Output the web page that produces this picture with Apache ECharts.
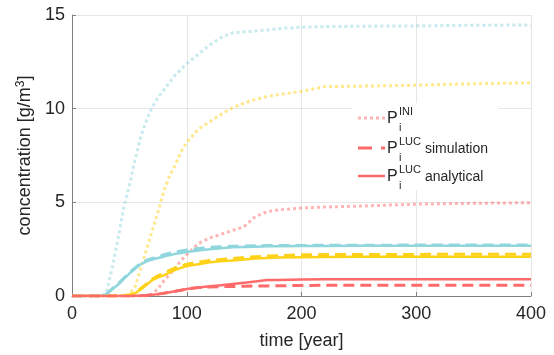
<!DOCTYPE html>
<html>
<head>
<meta charset="utf-8">
<script src="https://cdn.jsdelivr.net/npm/echarts@6/dist/echarts.min.js"></script>
<style>
  html, body { margin: 0; padding: 0; background: #fff; }
  #chart { width: 554px; height: 355px; }
</style>
</head>
<body>
<div id="chart"></div>
<script>
// time grid shared by all curves (years)
const time = [0, 20, 25, 30, 35, 40, 45, 50, 55, 60, 65, 70, 75, 80, 85, 90, 95, 100, 110, 120, 130, 140, 150, 160, 170, 180, 200, 220, 250, 300, 350, 400];

// P_i^INI (dotted)
const cyanIni   = [0, 0, 0, 0.2, 1.5, 3.0, 4.7, 5.9, 7.3, 8.5, 9.4, 10.1, 10.6, 11.0, 11.4, 11.8, 12.1, 12.4, 12.9, 13.4, 13.8, 14.05, 14.1, 14.15, 14.2, 14.27, 14.35, 14.38, 14.4, 14.42, 14.45, 14.47];
const yellowIni = [0, 0, 0, 0, 0, 0, 0, 0.1, 0.5, 1.5, 2.5, 3.5, 4.5, 5.6, 6.4, 7.0, 7.7, 8.2, 8.9, 9.3, 9.7, 10.05, 10.3, 10.5, 10.65, 10.75, 10.92, 11.18, 11.2, 11.25, 11.33, 11.38];
const redIni    = [0, 0, 0, 0, 0, 0, 0, 0, 0, 0, 0, 0.1, 0.4, 0.8, 1.15, 1.5, 1.9, 2.2, 2.8, 3.1, 3.3, 3.5, 3.7, 4.25, 4.5, 4.6, 4.7, 4.75, 4.8, 4.9, 4.95, 4.98];

// P_i^LUC simulation (dashed)
const cyanSim   = [0, 0, 0, 0.1, 0.38, 0.65, 0.95, 1.25, 1.5, 1.75, 1.9, 2.0, 2.1, 2.2, 2.28, 2.35, 2.4, 2.45, 2.53, 2.6, 2.63, 2.65, 2.67, 2.68, 2.69, 2.7, 2.7, 2.71, 2.71, 2.72, 2.72, 2.72];
const yellowSim = [0, 0, 0, 0, 0, 0, 0.02, 0.05, 0.18, 0.4, 0.65, 0.9, 1.08, 1.2, 1.37, 1.5, 1.6, 1.7, 1.8, 1.9, 1.95, 2.0, 2.05, 2.1, 2.13, 2.15, 2.2, 2.21, 2.22, 2.22, 2.23, 2.23];
const redSim    = [0, 0, 0, 0, 0, 0, 0, 0, 0.01, 0.02, 0.04, 0.07, 0.1, 0.15, 0.2, 0.25, 0.31, 0.37, 0.45, 0.48, 0.5, 0.51, 0.52, 0.53, 0.54, 0.55, 0.56, 0.57, 0.57, 0.58, 0.58, 0.58];

// P_i^LUC analytical (solid)
const cyanAna   = [0, 0, 0, 0.1, 0.35, 0.6, 0.9, 1.2, 1.45, 1.7, 1.85, 1.95, 2.03, 2.1, 2.18, 2.25, 2.3, 2.35, 2.43, 2.5, 2.55, 2.6, 2.62, 2.63, 2.65, 2.66, 2.67, 2.67, 2.68, 2.68, 2.68, 2.68];
const yellowAna = [0, 0, 0, 0, 0, 0, 0.02, 0.05, 0.15, 0.35, 0.6, 0.85, 1.0, 1.1, 1.25, 1.4, 1.5, 1.6, 1.7, 1.8, 1.85, 1.9, 1.95, 2.0, 2.03, 2.05, 2.07, 2.08, 2.09, 2.1, 2.1, 2.1];
const redAna    = [0, 0, 0, 0, 0, 0, 0, 0, 0.01, 0.02, 0.04, 0.07, 0.1, 0.15, 0.2, 0.25, 0.31, 0.37, 0.45, 0.52, 0.58, 0.64, 0.71, 0.78, 0.85, 0.86, 0.88, 0.89, 0.9, 0.9, 0.9, 0.9];

const xTicks = [0, 100, 200, 300, 400];
const yTicks = [0, 5, 10, 15];

const CYAN = '#8fd6dd';
const YELLOW = '#ffd21a';
const RED = '#ff6b6b';
const FONT = 'Liberation Sans, Arial, sans-serif';

const DOT = [3, 3];
const DASH = [11, 6];

function pairs(vals) {
  return time.map((t, i) => [t, vals[i]]);
}

function line(vals, color, kind) {
  const style = { color: color, width: 2.5, cap: 'butt', join: 'round' };
  let opacity = 1;
  if (kind === 'dot') { style.type = DOT; style.width = 3; opacity = 0.5; }
  if (kind === 'dash') { style.type = DASH; style.width = 3; }
  style.opacity = opacity;
  return {
    type: 'line',
    data: pairs(vals),
    showSymbol: false,
    smooth: false,
    lineStyle: style,
    itemStyle: { color: color },
    emphasis: { disabled: true },
    silent: true,
  };
}

const chart = echarts.init(document.getElementById('chart'), null, { renderer: 'canvas' });

// legend drawn by hand so P can carry both a superscript and a subscript
const LX = 358, LW = 27, PX = 387, SX = 399, TX = 425;
const rows = [
  { y: 118, sup: 'INI', label: '', dash: DOT, opacity: 0.5, w: 3 },
  { y: 148, sup: 'LUC', label: 'simulation', dash: [14, 9], opacity: 1, w: 3 },
  { y: 176, sup: 'LUC', label: 'analytical', dash: null, opacity: 1, w: 2.5 },
];
const legendEls = [
  { type: 'rect', shape: { x: 352, y: 103, width: 146, height: 87 }, style: { fill: '#fff' }, z: 10 },
];
rows.forEach(r => {
  legendEls.push({
    type: 'line', z: 11,
    shape: { x1: LX, y1: r.y, x2: LX + LW, y2: r.y },
    style: { stroke: RED, lineWidth: r.w, lineDash: r.dash, opacity: r.opacity },
  });
  legendEls.push({
    type: 'text', z: 11, x: PX, y: r.y + 1,
    style: { text: 'P', fontSize: 16, fontFamily: FONT, fill: '#262626', verticalAlign: 'middle' },
  });
  legendEls.push({
    type: 'text', z: 11, x: SX, y: r.y - 6,
    style: { text: r.sup, fontSize: 11, fontFamily: FONT, fill: '#262626', verticalAlign: 'middle' },
  });
  legendEls.push({
    type: 'text', z: 11, x: SX, y: r.y + 10,
    style: { text: 'i', fontSize: 11, fontFamily: FONT, fill: '#262626', verticalAlign: 'middle' },
  });
  if (r.label) {
    legendEls.push({
      type: 'text', z: 11, x: TX, y: r.y + 1,
      style: { text: r.label, fontSize: 14, fontFamily: FONT, fill: '#262626', verticalAlign: 'middle' },
    });
  }
});

const option = {
  backgroundColor: '#fff',
  animation: false,
  grid: { left: 72, right: 23, top: 15, bottom: 58 },
  xAxis: {
    type: 'value',
    min: xTicks[0],
    max: xTicks[xTicks.length - 1],
    interval: 100,
    name: 'time [year]',
    nameLocation: 'middle',
    nameGap: 36,
    nameTextStyle: { fontSize: 18, fontFamily: FONT, color: '#262626' },
    axisLine: { show: true, lineStyle: { color: '#808080', width: 1 } },
    axisTick: { show: true, inside: true, length: 4, lineStyle: { color: '#808080' } },
    axisLabel: { fontSize: 18, fontFamily: FONT, color: '#262626', margin: 9 },
    splitLine: { show: true, lineStyle: { color: '#e6e6e6', width: 1 } },
  },
  yAxis: {
    type: 'value',
    min: yTicks[0],
    max: yTicks[yTicks.length - 1],
    interval: 5,
    name: 'concentration [g/m{sup|3}]',
    nameLocation: 'middle',
    nameGap: 31,
    nameTextStyle: {
      fontSize: 18, fontFamily: FONT, color: '#262626',
      rich: { sup: { fontSize: 12, fontFamily: FONT, color: '#262626', verticalAlign: 'top', padding: [0, 0, 8, 0] } },
    },
    axisLine: { show: true, lineStyle: { color: '#808080', width: 1 } },
    axisTick: { show: true, inside: true, length: 4, lineStyle: { color: '#808080' } },
    axisLabel: { fontSize: 18, fontFamily: FONT, color: '#262626', margin: 7 },
    splitLine: { show: true, lineStyle: { color: '#e6e6e6', width: 1 } },
  },
  series: [
    line(cyanIni, CYAN, 'dot'),
    line(yellowIni, YELLOW, 'dot'),
    line(redIni, RED, 'dot'),
    line(cyanSim, CYAN, 'dash'),
    line(yellowSim, YELLOW, 'dash'),
    line(redSim, RED, 'dash'),
    line(cyanAna, CYAN, 'solid'),
    line(yellowAna, YELLOW, 'solid'),
    line(redAna, RED, 'solid'),
  ],
  graphic: legendEls,
};

chart.setOption(option);
</script>
</body>
</html>
